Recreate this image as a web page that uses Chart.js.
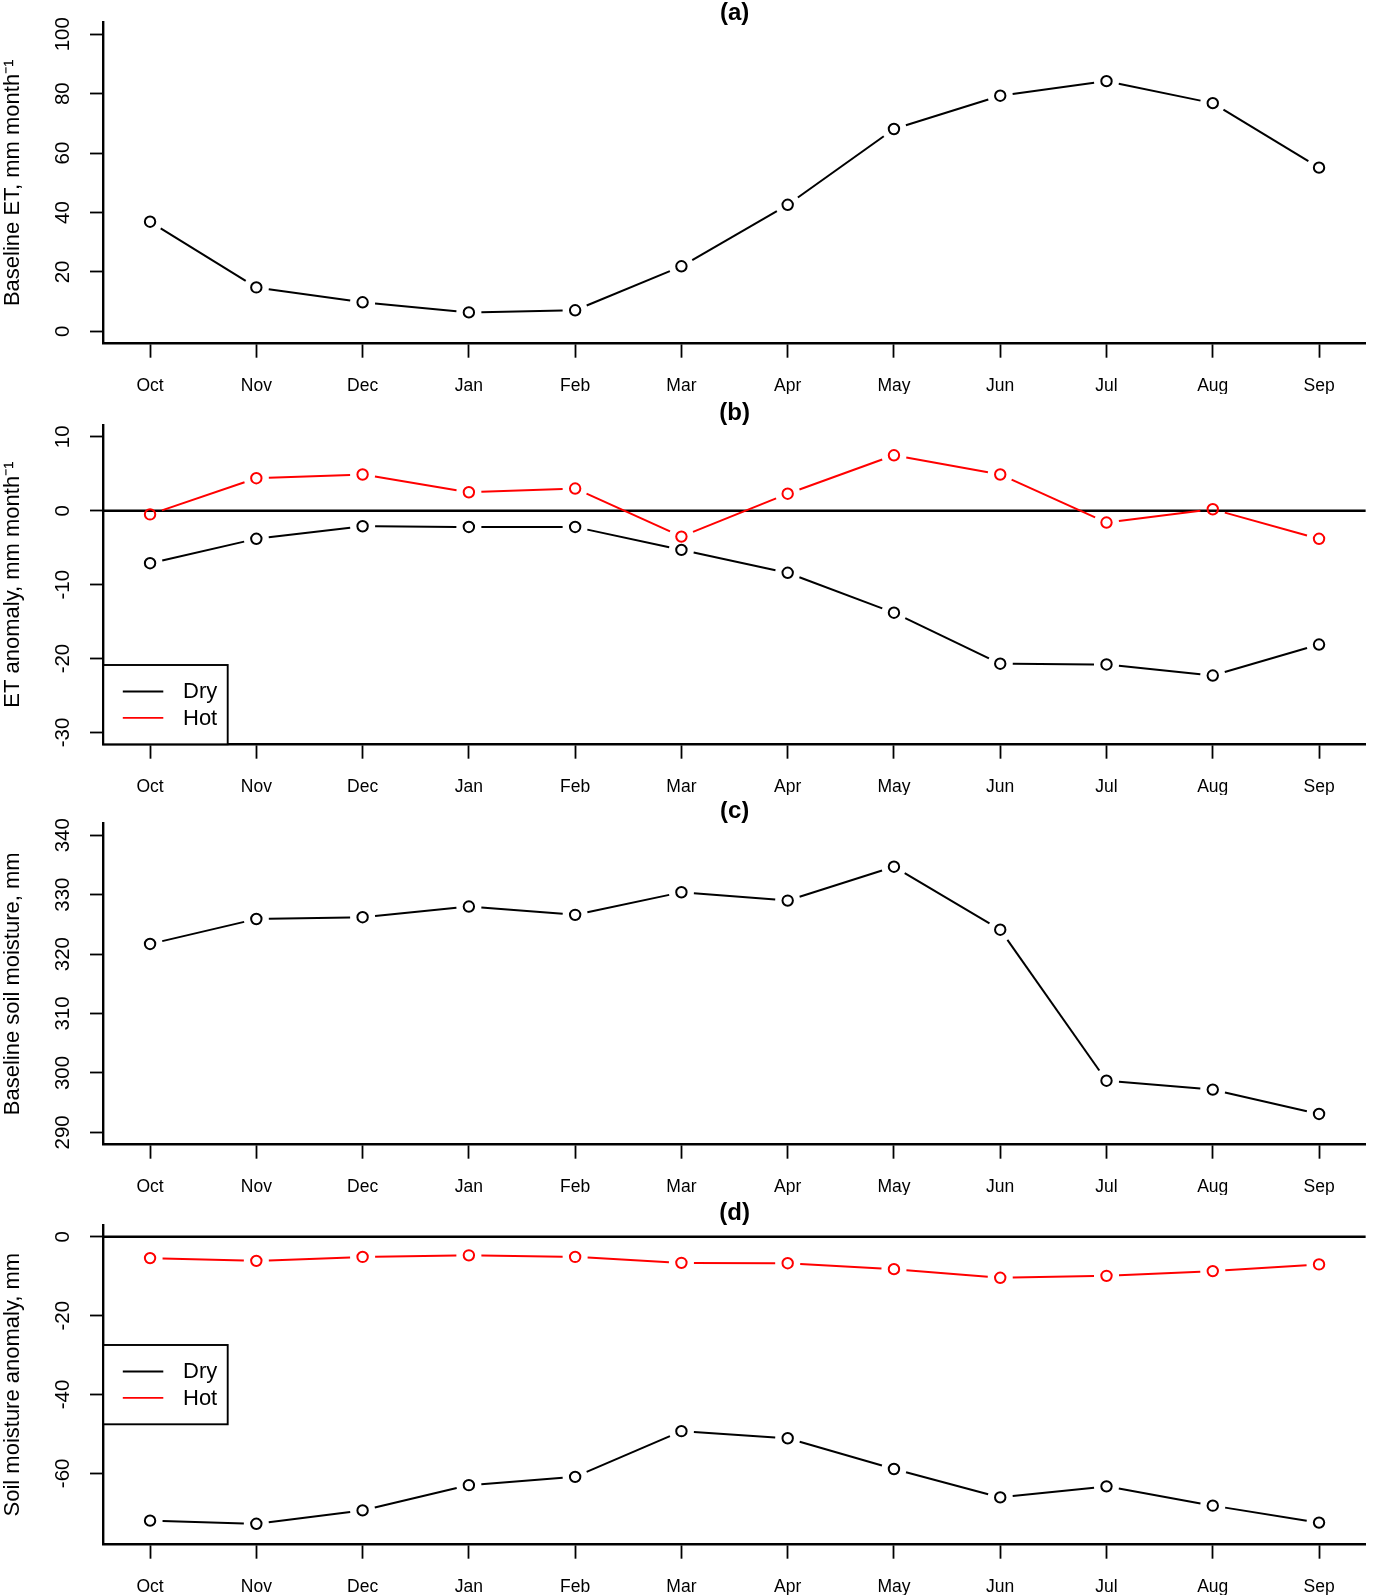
<!DOCTYPE html>
<html><head><meta charset="utf-8">
<script src="https://cdn.jsdelivr.net/npm/chart.js@4.4.1/dist/chart.umd.min.js"></script>
<style>
html,body{margin:0;padding:0;background:#fff;overflow:hidden;width:1373px;height:1596px}
.panel{position:absolute;left:0;width:1373px;height:394px}
canvas{display:block}
</style></head><body>
<div class="panel" style="top:0px"><canvas id="pa" width="1373" height="394"></canvas></div>
<div class="panel" style="top:401px"><canvas id="pb" width="1373" height="394"></canvas></div>
<div class="panel" style="top:801px"><canvas id="pc" width="1373" height="394"></canvas></div>
<div class="panel" style="top:1201px"><canvas id="pd" width="1373" height="394"></canvas></div>
<script>
// ---------- data ----------
const months = ['Oct','Nov','Dec','Jan','Feb','Mar','Apr','May','Jun','Jul','Aug','Sep'];

const baselineET = [36.9, 14.8, 9.8, 6.4, 7.1, 21.9, 42.6, 68.1, 79.3, 84.2, 76.8, 55.1];

const etAnomalyDry = [-7.1, -3.8, -2.1, -2.2, -2.2, -5.3, -8.4, -13.8, -20.7, -20.8, -22.3, -18.1];
const etAnomalyHot = [-0.5, 4.4, 4.9, 2.5, 3.0, -3.5, 2.3, 7.5, 4.9, -1.6, 0.2, -3.8];

const baselineSM = [321.7, 325.9, 326.2, 328.0, 326.6, 330.4, 329.0, 334.7, 324.1, 298.7, 297.2, 293.1];

const smAnomalyDry = [-72.0, -72.8, -69.4, -63.0, -60.9, -49.3, -51.1, -58.9, -66.1, -63.3, -68.2, -72.5];
const smAnomalyHot = [-5.4, -6.1, -5.1, -4.7, -5.1, -6.6, -6.7, -8.2, -10.4, -9.9, -8.7, -7.0];

const yTicksA = [0, 20, 40, 60, 80, 100];
const yTicksB = [-30, -20, -10, 0, 10];
const yTicksC = [290, 300, 310, 320, 330, 340];
const yTicksD = [-60, -40, -20, 0];

const yLimA = [-4, 104];
const yLimB = [-31.6, 11.6];
const yLimC = [288, 342];
const yLimD = [-78, 3];
const xLim = [-0.44, 11.44];

const seriesNames = ['Dry', 'Hot'];

// ---------- styling ----------
const FONT = "'Liberation Sans', Arial, Helvetica, sans-serif";
const BLACK = '#000000';
const RED = '#ff0000';
const Y_TICK_SIZE = 20.5;

const mctx = document.createElement('canvas').getContext('2d');
function yLabelPadding(ticks) {
  mctx.font = `${Y_TICK_SIZE}px ${FONT}`;
  const w = Math.max(...ticks.map(t => mctx.measureText(String(t)).width));
  return 26.5 - w / 2;
}

// R type="b": line segments stop short of the points
const gapDash = (c) => {
  const L = Math.hypot(c.p1.x - c.p0.x, c.p1.y - c.p0.y);
  const g = 12.5;
  const tail = 2000 + c.p0DataIndex * 0.001;
  return L > 2 * g ? [0, g, L - 2 * g, g + tail] : [0, L + tail];
};

const rLegend = {
  id: 'rLegend',
  afterDatasetsDraw(chart, args, opts) {
    if (!opts || !opts.position) return;
    const items = chart.data.datasets.filter(d => d.inLegend);
    const {ctx, chartArea: a} = chart;
    const w = 124.4, h = 79.3;
    const left = a.left;
    const top = opts.position === 'bottomleft' ? a.bottom - h : (a.top + a.bottom) / 2 - h / 2;
    ctx.save();
    ctx.fillStyle = '#fff';
    ctx.fillRect(left, top, w, h);
    ctx.lineWidth = 1.9;
    ctx.strokeStyle = BLACK;
    ctx.strokeRect(left, top, w, h);
    items.forEach((it, i) => {
      const y = top + h * (i + 1) / 3;
      ctx.strokeStyle = it.borderColor;
      ctx.lineWidth = 1.9;
      ctx.beginPath();
      ctx.moveTo(left + 19.5, y);
      ctx.lineTo(left + 60, y);
      ctx.stroke();
      ctx.fillStyle = BLACK;
      ctx.font = `22px ${FONT}`;
      ctx.textBaseline = 'middle';
      ctx.textAlign = 'left';
      ctx.fillText(it.label, left + 79.7, y + 1);
    });
    ctx.restore();
  }
};

function makePanel(id, title, titleTop, yTitle, yLim, yTicks, series, legendPos, zeroLine) {
  const datasets = [];
  if (zeroLine) {
    datasets.push({
      data: [{x: xLim[0], y: 0}, {x: xLim[1], y: 0}],
      borderColor: BLACK, borderWidth: 2.5, pointRadius: 0, order: 10
    });
  }
  series.forEach((s, k) => {
    datasets.push({
      label: s.name,
      inLegend: true,
      data: s.values.map((v, i) => ({x: i, y: v})),
      borderColor: s.color,
      borderWidth: 2,
      pointRadius: 5.2,
      pointBorderWidth: 2,
      pointBorderColor: s.color,
      pointBackgroundColor: 'rgba(0,0,0,0)',
      segment: {borderDash: gapDash},
      order: series.length - k
    });
  });

  return new Chart(document.getElementById(id), {
    type: 'line',
    data: {datasets},
    plugins: [rLegend],
    options: {
      responsive: false,
      animation: false,
      events: [],
      layout: {padding: {left: 0, right: 1.8, top: 0, bottom: 0}},
      plugins: {
        legend: {display: false},
        tooltip: {enabled: false},
        rLegend: legendPos ? {position: legendPos} : {},
        title: {
          display: true, text: title, color: BLACK, fullSize: false,
          font: {family: FONT, size: 24, weight: 'bold', lineHeight: 1},
          padding: {top: titleTop, bottom: 22.3 - 24 - titleTop}
        }
      },
      scales: {
        x: {
          type: 'linear', min: xLim[0], max: xLim[1],
          afterBuildTicks: s => { s.ticks = months.map((m, i) => ({value: i})); },
          afterFit: s => { s.height = 50.7; },
          border: {display: true, color: BLACK, width: 2.4},
          grid: {drawOnChartArea: false, drawTicks: true, tickLength: 14.4, tickWidth: 1.8, tickColor: BLACK, color: BLACK},
          ticks: {
            autoSkip: false, maxRotation: 0, minRotation: 0, padding: 18,
            color: BLACK, font: {family: FONT, size: 17.5},
            callback: (v, i) => months[i]
          }
        },
        y: {
          type: 'linear', min: yLim[0], max: yLim[1],
          afterBuildTicks: s => { s.ticks = yTicks.map(v => ({value: v})); },
          afterFit: s => { s.width = 103.3; },
          border: {display: true, color: BLACK, width: 2.4},
          grid: {drawOnChartArea: false, drawTicks: true, tickLength: 13.3, tickWidth: 1.8, tickColor: BLACK, color: BLACK},
          ticks: {
            minRotation: 90, maxRotation: 90, crossAlign: 'center',
            padding: yLabelPadding(yTicks),
            color: BLACK, font: {family: FONT, size: Y_TICK_SIZE},
            callback: v => String(v)
          },
          title: {
            display: true, text: yTitle, color: BLACK,
            font: {family: FONT, size: 22, lineHeight: 1.15},
            padding: {top: 0, bottom: 0}
          }
        }
      }
    }
  });
}

makePanel('pa', '(a)', 1.2, 'Baseline ET, mm month\u207B\u00B9', yLimA, yTicksA,
  [{name: 'Baseline', values: baselineET, color: BLACK}], null, false);
makePanel('pb', '(b)', -1.3, 'ET anomaly, mm month\u207B\u00B9', yLimB, yTicksB,
  [{name: seriesNames[0], values: etAnomalyDry, color: BLACK},
   {name: seriesNames[1], values: etAnomalyHot, color: RED}], 'bottomleft', true);
makePanel('pc', '(c)', -1.3, 'Baseline soil moisture, mm', yLimC, yTicksC,
  [{name: 'Baseline', values: baselineSM, color: BLACK}], null, false);
makePanel('pd', '(d)', -1.3, 'Soil moisture anomaly, mm', yLimD, yTicksD,
  [{name: seriesNames[0], values: smAnomalyDry, color: BLACK},
   {name: seriesNames[1], values: smAnomalyHot, color: RED}], 'left', true);
</script>
</body></html>
